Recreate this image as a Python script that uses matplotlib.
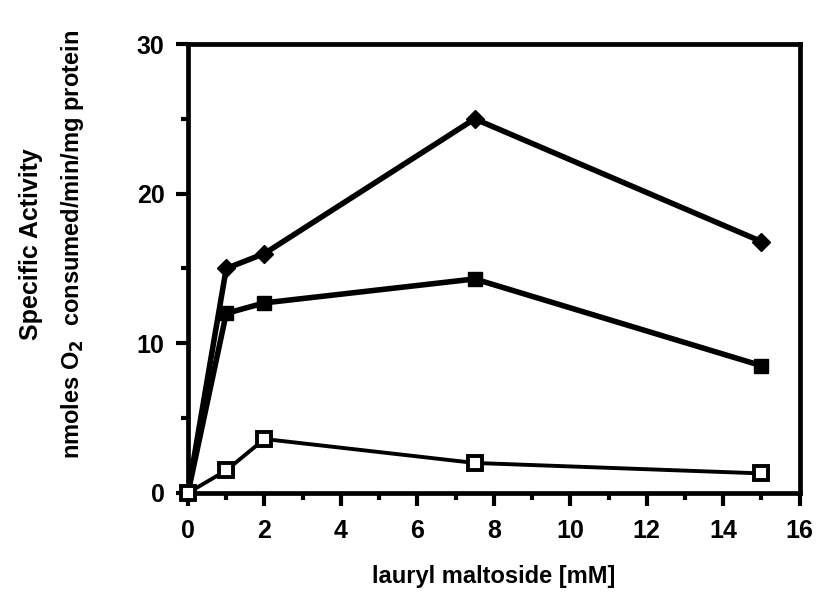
import matplotlib
matplotlib.use('Agg')
import matplotlib.pyplot as plt
from matplotlib.ticker import MultipleLocator

# Data
conc_mM = [0, 1, 2, 7.5, 15]
activity_diamond = [0, 15.0, 16.0, 25.0, 16.8]
activity_filled_sq = [0, 12.0, 12.7, 14.3, 8.5]
activity_open_sq = [0, 1.5, 3.6, 2.0, 1.3]

x_ticks = [0, 2, 4, 6, 8, 10, 12, 14, 16]
y_ticks = [0, 10, 20, 30]

plt.rcParams['font.family'] = ['Liberation Sans', 'DejaVu Sans']
plt.rcParams['font.weight'] = 'bold'

fig = plt.figure(figsize=(8.21, 6.04), dpi=100)
ax = fig.add_axes([0.229, 0.184, 0.745, 0.743])

ax.plot(conc_mM, activity_diamond, color='black', linewidth=4.0,
        marker='D', markersize=9, markerfacecolor='black', clip_on=False, zorder=4)
ax.plot(conc_mM, activity_filled_sq, color='black', linewidth=4.0,
        marker='s', markersize=10, markerfacecolor='black', clip_on=False, zorder=4)
ax.plot(conc_mM, activity_open_sq, color='black', linewidth=2.8,
        marker='s', markersize=10, markerfacecolor='white', markeredgewidth=2.8,
        clip_on=False, zorder=5)

ax.set_xlim(0, 16)
ax.set_ylim(0, 30)
ax.set_xticks(x_ticks)
ax.set_yticks(y_ticks)
ax.xaxis.set_minor_locator(MultipleLocator(1))
ax.yaxis.set_minor_locator(MultipleLocator(5))

for side in ['left', 'right', 'top', 'bottom']:
    ax.spines[side].set_linewidth(3.4)

ax.tick_params(which='major', direction='out', length=9, width=3,
               labelsize=18, pad=10)
ax.tick_params(which='minor', direction='out', length=5, width=3)
ax.tick_params(axis='y', pad=8)
for lbl in ax.get_xticklabels() + ax.get_yticklabels():
    lbl.set_fontweight('bold')

ax.set_xlabel('lauryl maltoside [mM]', fontsize=17, fontweight='bold', labelpad=16)

# two-line y label
fig.text(0.038, 0.596, 'Specific Activity', rotation=90, fontsize=18,
         fontweight='bold', ha='center', va='center')
fig.text(0.088, 0.596, r'nmoles O$_\mathbf{2}$  consumed/min/mg protein', rotation=90,
         fontsize=17, fontweight='bold', ha='center', va='center')

fig.savefig('out.png', dpi=100)
